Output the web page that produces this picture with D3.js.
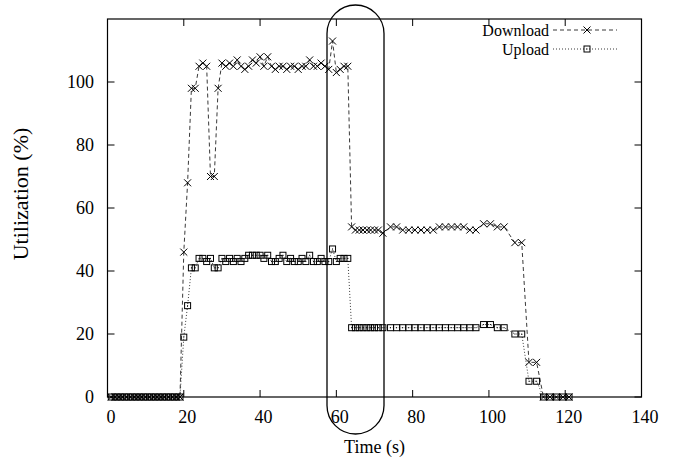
<!DOCTYPE html>
<html>
<head>
<meta charset="utf-8">
<script src="https://cdn.jsdelivr.net/npm/d3@7"></script>
<style>
  html, body { margin: 0; padding: 0; background: #fff; }
  svg { display: block; font-family: "Liberation Serif", "Times New Roman", serif; }
</style>
</head>
<body>
<div id="chart"></div>
<script>
// --- Data ---
const time = [
  1, 2, 3, 4, 5, 6, 7, 8, 9, 10, 11, 12, 13, 14, 15, 16, 17, 18, 19,
  20, 21, 22, 23, 24, 25, 26, 27, 28, 29, 30, 31, 32, 33, 34, 35, 36, 37, 38, 39,
  40, 41, 42, 43, 44, 45, 46, 47, 48, 49, 50, 51, 52, 53, 54, 55, 56, 57, 58, 59,
  60, 61, 62, 63,
  64, 65, 66, 67, 68, 69, 70, 71, 72.2, 74.2, 75.8, 77.4, 79, 80.6, 82.2, 83.8, 85.4,
  87, 88.6, 90.2, 91.8, 93.4, 95, 96.6, 98.6, 100.4, 102.2, 104, 106.8, 108.6,
  110.5, 112.5, 114.3, 116, 117.7, 119.4, 121
];
const download = [
  0, 0, 0, 0, 0, 0, 0, 0, 0, 0, 0, 0, 0, 0, 0, 0, 0, 0, 0,
  46, 68, 98, 98, 105, 106, 105, 70, 70, 98, 106, 105, 106, 105, 107, 105, 104, 105, 107, 106,
  108, 105, 108, 105, 104, 105, 105, 104, 105, 105, 104, 105, 105, 107, 105, 105, 106, 105, 104, 113,
  103, 104, 105, 105,
  54, 53, 53, 53, 53, 53, 53, 53, 52, 54, 54, 53, 53, 53, 53, 53, 53,
  54, 54, 54, 54, 54, 53, 53, 55, 55, 54, 54, 49, 49,
  11, 11, 0, 0, 0, 0, 0
];
const upload = [
  0, 0, 0, 0, 0, 0, 0, 0, 0, 0, 0, 0, 0, 0, 0, 0, 0, 0, 0,
  19, 29, 41, 41, 44, 44, 43, 44, 41, 41, 44, 43, 44, 43, 44, 43, 44, 45, 45, 45,
  45, 44, 45, 43, 43, 44, 45, 43, 44, 43, 43, 44, 43, 45, 43, 43, 44, 43, 43, 47,
  43, 44, 44, 44,
  22, 22, 22, 22, 22, 22, 22, 22, 22, 22, 22, 22, 22, 22, 22, 22, 22,
  22, 22, 22, 22, 22, 22, 22, 23, 23, 22, 22, 20, 20,
  5, 5, 0, 0, 0, 0, 0
];
const xTicks = [0, 20, 40, 60, 80, 100, 120, 140];
const yTicks = [0, 20, 40, 60, 80, 100];
const seriesNames = ['Download', 'Upload'];

document.addEventListener('DOMContentLoaded', () => {
    const W = 673, H = 459;
    const left = 107.5, right = 641.5, top = 19, bottom = 397;

    const svg = d3.select('#chart').append('svg')
        .attr('width', W).attr('height', H);

    const x = d3.scaleLinear().domain([0, 140]).range([left, right]);
    const y = d3.scaleLinear().domain([0, 120]).range([bottom, top]);

    // --- Axes (gnuplot style: inward ticks, mirrored) ---
    const tick = 7;
    const axes = svg.append('g').attr('stroke', '#000').attr('stroke-width', 1);
    xTicks.forEach(t => {
        axes.append('line').attr('x1', x(t)).attr('x2', x(t)).attr('y1', bottom).attr('y2', bottom - tick);
        axes.append('line').attr('x1', x(t)).attr('x2', x(t)).attr('y1', top).attr('y2', top + tick);
    });
    yTicks.forEach(v => {
        axes.append('line').attr('x1', left).attr('x2', left + tick).attr('y1', y(v)).attr('y2', y(v));
        axes.append('line').attr('x1', right).attr('x2', right - tick).attr('y1', y(v)).attr('y2', y(v));
    });

    svg.append('g').selectAll('text').data(xTicks).join('text')
        .attr('x', d => x(d) + 3.5).attr('y', 423)
        .attr('text-anchor', 'middle').attr('font-size', 18)
        .text(d => d);
    svg.append('g').selectAll('text').data(yTicks).join('text')
        .attr('x', 94).attr('y', d => y(d)).attr('dy', '0.35em')
        .attr('text-anchor', 'end').attr('font-size', 18)
        .text(d => d);

    svg.append('text').attr('x', (left + right) / 2).attr('y', 453)
        .attr('text-anchor', 'middle').attr('font-size', 18).text('Time (s)');
    svg.append('text').attr('transform', 'translate(28,194) rotate(-90)')
        .attr('text-anchor', 'middle').attr('font-size', 22).text('Utilization (%)');

    // --- Series ---
    const line = d3.line().x(d => x(d[0])).y(d => y(d[1]));
    const dl = time.map((t, i) => [t, download[i]]);
    const ul = time.map((t, i) => [t, upload[i]]);

    svg.append('path').datum(dl).attr('d', line)
        .attr('fill', 'none').attr('stroke', '#222').attr('stroke-width', 0.9)
        .attr('stroke-dasharray', '4,3');
    svg.append('path').datum(ul).attr('d', line)
        .attr('fill', 'none').attr('stroke', '#222').attr('stroke-width', 0.9)
        .attr('stroke-dasharray', '1,2');

    const cross = 'M-3.5,-3.5L3.5,3.5M-3.5,3.5L3.5,-3.5';
    function drawCross(g, px, py) {
        g.append('path').attr('transform', `translate(${px},${py})`).attr('d', cross)
            .attr('stroke', '#000').attr('stroke-width', 1).attr('fill', 'none');
    }
    function drawBox(g, px, py) {
        g.append('rect').attr('x', px - 3).attr('y', py - 3).attr('width', 6).attr('height', 6)
            .attr('fill', 'none').attr('stroke', '#000').attr('stroke-width', 1);
        g.append('rect').attr('x', px - 0.5).attr('y', py - 0.5).attr('width', 1).attr('height', 1)
            .attr('fill', '#000');
    }

    const ulMarks = svg.append('g');
    ul.forEach(d => drawBox(ulMarks, x(d[0]), y(d[1])));
    const dlMarks = svg.append('g');
    dl.forEach(d => drawCross(dlMarks, x(d[0]), y(d[1])));

    // --- Border ---
    svg.append('rect').attr('x', left).attr('y', top)
        .attr('width', right - left).attr('height', bottom - top)
        .attr('fill', 'none').attr('stroke', '#000').attr('stroke-width', 1.2);

    // --- Legend ---
    const legend = svg.append('g');
    const rows = [{ y: 30, dash: '4,3', mark: drawCross }, { y: 49, dash: '1,2', mark: drawBox }];
    rows.forEach((r, i) => {
        legend.append('text').attr('x', 549).attr('y', r.y).attr('dy', '0.35em')
            .attr('text-anchor', 'end').attr('font-size', 16).text(seriesNames[i]);
        legend.append('line').attr('x1', 553).attr('x2', 617).attr('y1', r.y).attr('y2', r.y)
            .attr('stroke', '#222').attr('stroke-width', 0.9).attr('stroke-dasharray', r.dash);
        r.mark(legend, 587, r.y);
    });

    // --- Highlight around the drop ---
    svg.append('rect').attr('x', 327).attr('y', 5).attr('width', 57).attr('height', 429)
        .attr('rx', 28.5).attr('ry', 28.5)
        .attr('fill', 'none').attr('stroke', '#000').attr('stroke-width', 1.3);
});
</script>
</body>
</html>
